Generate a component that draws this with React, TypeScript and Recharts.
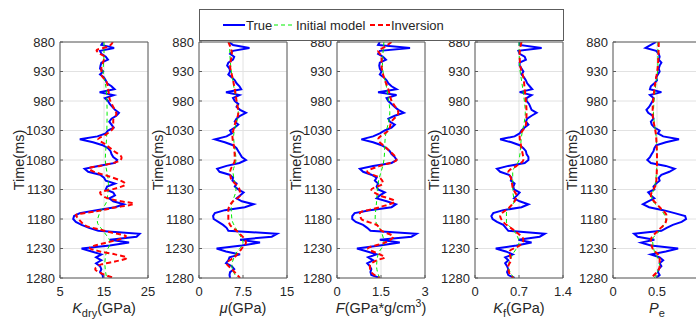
import React from "react";
import { LineChart, Line, XAxis, YAxis, CartesianGrid } from "recharts";

// depth samples of the "True" logs (ms)
const depth = [
  880, 885, 890, 895, 900, 905, 910, 915, 920, 925,
  930, 935, 940, 945, 950, 955, 960, 965, 970, 975,
  980, 985, 990, 995, 1000, 1005, 1010, 1015, 1020, 1025,
  1030, 1035, 1040, 1045, 1050, 1055, 1060, 1065, 1070, 1075,
  1080, 1085, 1090, 1095, 1100, 1105, 1110, 1115, 1120, 1125,
  1130, 1135, 1140, 1145, 1150, 1155, 1160, 1165, 1170, 1175,
  1180, 1185, 1190, 1195, 1200, 1205, 1210, 1215, 1220, 1225,
  1230, 1235, 1240, 1245, 1250, 1255, 1260, 1265, 1270, 1275,
  1280,
];

const timeTicks = [880, 930, 980, 1030, 1080, 1130, 1180, 1230, 1280];

// Kdry (GPa)
const kdryTrue = [
  14.8, 14.4, 17.3, 14.1, 14.4, 15.4, 15.9, 14.4, 14.2, 14.1,
  14.8, 14.1, 15.0, 15.4, 15.7, 16.7, 17.4, 14.0, 17.2, 15.2,
  15.9, 16.3, 16.9, 17.5, 18.4, 17.8, 16.7, 16.2, 16.7, 17.2,
  15.9, 15.4, 13.5, 9.5, 12.5, 14.7, 15.9, 16.5, 16.7, 17.1,
  18.0, 17.5, 13.7, 10.6, 11.4, 14.1, 15.0, 15.4, 17.5, 15.7,
  15.4, 17.1, 17.5, 16.2, 17.1, 19.5, 17.5, 13.3, 9.5, 8.2,
  8.0, 8.6, 9.9, 11.6, 13.7, 23.1, 22.4, 16.3, 20.7, 16.3,
  9.9, 12.2, 14.4, 13.2, 14.4, 13.2, 14.1, 14.4, 14.1, 14.7,
  14.8,
];
const kdryInvT = [880, 888, 894, 900, 905, 914, 922, 935, 948, 962, 977, 990, 1002, 1012, 1025, 1036, 1045, 1053, 1064, 1076, 1081, 1090, 1094, 1099, 1107, 1115, 1121, 1129, 1135, 1143, 1150, 1154, 1161, 1167, 1173, 1178, 1184, 1192, 1198, 1203, 1209, 1215, 1220, 1226, 1229, 1235, 1240, 1246, 1252, 1257, 1265, 1271, 1280];
const kdryInv = [17.0, 15.9, 13.3, 14.1, 15.1, 14.8, 14.4, 14.4, 15.6, 16.0, 16.3, 17.1, 17.8, 17.1, 17.1, 15.6, 13.7, 15.2, 17.1, 19.0, 18.6, 14.1, 11.6, 12.4, 15.8, 18.8, 19.9, 17.3, 14.1, 15.2, 18.8, 21.8, 17.1, 13.3, 8.6, 9.0, 9.7, 11.0, 14.1, 16.7, 20.0, 18.2, 15.6, 12.5, 11.8, 14.1, 17.5, 20.2, 17.5, 14.4, 13.0, 14.1, 17.3];
const kdryInitT = [880, 900, 930, 960, 1000, 1040, 1080, 1120, 1150, 1170, 1185, 1200, 1220, 1235, 1255, 1280];
const kdryInit = [15.0, 15.0, 14.8, 15.5, 15.7, 15.6, 15.3, 16.0, 15.6, 14.0, 13.5, 14.8, 16.4, 15.6, 15.2, 15.6];

// mu (GPa)
const muTrue = [
  5.0, 5.8, 8.6, 5.8, 5.3, 6.0, 5.8, 5.0, 4.8, 5.2,
  5.3, 5.0, 5.6, 6.1, 6.4, 6.9, 7.2, 4.6, 6.9, 5.8,
  6.1, 6.7, 6.4, 7.0, 8.0, 7.0, 6.4, 6.1, 6.7, 6.1,
  5.3, 5.6, 4.7, 2.7, 4.4, 5.8, 6.4, 6.7, 7.0, 7.3,
  8.0, 6.9, 4.7, 3.1, 3.5, 5.2, 5.8, 5.7, 6.4, 6.1,
  6.7, 7.6, 7.0, 6.4, 7.3, 9.3, 7.8, 4.4, 2.7, 2.4,
  2.5, 3.3, 4.1, 4.7, 5.0, 13.3, 12.4, 7.0, 10.4, 7.3,
  3.0, 4.6, 7.0, 5.2, 5.0, 4.6, 5.6, 6.0, 5.3, 5.2,
  5.3,
];
const muInvT = [880, 900, 920, 940, 960, 980, 1000, 1020, 1040, 1060, 1080, 1100, 1110, 1130, 1140, 1150, 1165, 1180, 1190, 1200, 1220, 1230, 1245, 1255, 1265, 1280];
const muInv = [5.0, 5.6, 5.3, 5.7, 6.1, 6.4, 6.7, 6.1, 5.7, 6.0, 6.1, 5.3, 5.4, 6.9, 7.0, 5.8, 5.0, 5.0, 5.3, 6.4, 8.0, 7.3, 6.0, 4.7, 5.6, 7.0];
const muInitT = [880, 920, 960, 1000, 1040, 1080, 1100, 1130, 1160, 1180, 1200, 1220, 1240, 1260, 1280];
const muInit = [5.2, 5.4, 6.0, 6.7, 5.9, 6.3, 5.8, 6.3, 5.5, 5.6, 6.5, 7.5, 6.2, 5.6, 6.5];

// F (GPa*g/cm3)
const fTrue = [
  1.46, 1.40, 2.49, 1.46, 1.40, 1.57, 1.67, 1.46, 1.44, 1.46,
  1.52, 1.46, 1.60, 1.69, 1.75, 1.86, 2.03, 1.40, 2.03, 1.69,
  1.75, 1.86, 1.97, 2.09, 2.28, 1.97, 1.75, 1.80, 1.97, 1.86,
  1.63, 1.46, 1.23, 0.83, 1.23, 1.52, 1.69, 1.80, 1.86, 1.97,
  2.03, 1.86, 1.23, 0.78, 0.89, 1.17, 1.35, 1.29, 1.40, 1.35,
  1.40, 1.63, 1.46, 1.35, 1.69, 2.01, 1.86, 1.12, 0.60, 0.52,
  0.52, 0.64, 0.89, 1.03, 1.14, 2.71, 2.54, 1.46, 2.14, 1.46,
  0.68, 1.03, 1.35, 1.06, 1.23, 1.03, 1.12, 1.17, 1.14, 1.17,
  1.46,
];
const fInvT = [880, 890, 895, 905, 920, 940, 960, 980, 1000, 1015, 1030, 1045, 1060, 1080, 1090, 1100, 1110, 1120, 1130, 1140, 1150, 1160, 1170, 1180, 1190, 1200, 1210, 1220, 1230, 1240, 1245, 1250, 1260, 1270, 1280];
const fInv = [1.86, 1.57, 1.40, 1.52, 1.52, 1.60, 1.75, 1.86, 2.09, 1.86, 1.75, 1.40, 1.69, 2.03, 1.46, 1.03, 1.46, 1.57, 1.17, 1.46, 1.97, 1.46, 0.78, 0.83, 1.35, 1.52, 1.92, 1.63, 1.06, 1.46, 1.63, 1.35, 1.12, 1.17, 1.46];
const fInitT = [880, 920, 960, 1000, 1040, 1080, 1120, 1150, 1180, 1200, 1220, 1240, 1260, 1280];
const fInit = [1.60, 1.55, 1.70, 1.80, 1.65, 1.60, 1.40, 1.35, 1.30, 1.50, 1.60, 1.40, 1.35, 1.45];

// Kf (GPa)
const kfTrue = [
  0.71, 0.71, 1.06, 0.69, 0.71, 0.79, 0.81, 0.71, 0.71, 0.74,
  0.77, 0.74, 0.78, 0.81, 0.83, 0.87, 0.91, 0.71, 0.90, 0.82,
  0.82, 0.86, 0.88, 0.90, 0.98, 0.90, 0.83, 0.81, 0.85, 0.79,
  0.74, 0.71, 0.63, 0.40, 0.58, 0.71, 0.77, 0.81, 0.82, 0.85,
  0.85, 0.79, 0.53, 0.35, 0.40, 0.54, 0.58, 0.57, 0.63, 0.61,
  0.62, 0.71, 0.67, 0.62, 0.71, 0.85, 0.74, 0.45, 0.29, 0.26,
  0.28, 0.35, 0.45, 0.49, 0.53, 1.11, 1.03, 0.69, 0.90, 0.66,
  0.33, 0.49, 0.60, 0.48, 0.53, 0.48, 0.51, 0.53, 0.51, 0.53,
  0.63,
];
const kfInvT = [880, 900, 920, 940, 960, 980, 1000, 1020, 1040, 1060, 1080, 1090, 1100, 1110, 1130, 1140, 1150, 1160, 1175, 1185, 1200, 1215, 1225, 1235, 1250, 1260, 1270, 1280];
const kfInv = [0.74, 0.71, 0.72, 0.77, 0.79, 0.81, 0.82, 0.81, 0.71, 0.74, 0.77, 0.66, 0.53, 0.57, 0.61, 0.66, 0.63, 0.55, 0.40, 0.45, 0.63, 0.77, 0.71, 0.55, 0.57, 0.53, 0.54, 0.61];
const kfInitT = [880, 920, 960, 1000, 1040, 1080, 1100, 1130, 1150, 1170, 1185, 1200, 1220, 1240, 1260, 1280];
const kfInit = [0.70, 0.71, 0.76, 0.80, 0.74, 0.70, 0.60, 0.60, 0.62, 0.50, 0.50, 0.62, 0.70, 0.60, 0.53, 0.62];

// Pe
const peTrue = [
  0.49, 0.43, 0.37, 0.49, 0.52, 0.53, 0.52, 0.55, 0.53, 0.52,
  0.53, 0.51, 0.49, 0.50, 0.47, 0.43, 0.42, 0.55, 0.42, 0.46,
  0.45, 0.43, 0.41, 0.38, 0.40, 0.45, 0.46, 0.43, 0.44, 0.47,
  0.53, 0.51, 0.57, 0.75, 0.60, 0.49, 0.47, 0.46, 0.44, 0.42,
  0.39, 0.43, 0.60, 0.70, 0.64, 0.55, 0.52, 0.53, 0.49, 0.46,
  0.47, 0.40, 0.43, 0.47, 0.40, 0.34, 0.41, 0.57, 0.70, 0.82,
  0.83, 0.78, 0.68, 0.61, 0.55, 0.24, 0.28, 0.47, 0.32, 0.43,
  0.74, 0.60, 0.43, 0.53, 0.57, 0.53, 0.55, 0.52, 0.51, 0.53,
  0.49,
];
const peInvT = [880, 920, 960, 1000, 1040, 1080, 1120, 1140, 1160, 1175, 1185, 1200, 1215, 1230, 1245, 1260, 1280];
const peInv = [0.52, 0.51, 0.47, 0.45, 0.49, 0.50, 0.49, 0.43, 0.53, 0.61, 0.60, 0.51, 0.43, 0.45, 0.53, 0.53, 0.43];
const peInitT = [880, 920, 960, 1000, 1040, 1080, 1120, 1145, 1165, 1180, 1200, 1215, 1235, 1255, 1280];
const peInit = [0.51, 0.51, 0.48, 0.46, 0.49, 0.50, 0.48, 0.44, 0.55, 0.60, 0.53, 0.45, 0.47, 0.53, 0.47];

const FONT = "'Liberation Sans', Arial, sans-serif";
const INK = "#262626";
const AXIS = "#5c5c5c";
const GRID = "#e2e2e2";

const CHART_H = 322;
const PLOT_TOP = 42;
const PLOT_BOTTOM = 278;
const PLOT_W = 88;
const Y_AXIS_W = 60;
const X_AXIS_H = 30;

const pairs = (t: number[], v: number[]) => t.map((d, i) => ({ t: d, v: v[i] }));

const txt = { fill: INK, fontFamily: FONT, fontSize: 14.5 };

const labels: ((cx: number, y: number) => React.ReactNode)[] = [
  (cx, y) => (
    <text x={cx} y={y} textAnchor="middle" {...txt}>
      <tspan fontStyle="italic">K</tspan>
      <tspan fontSize={11} dy={4}>dry</tspan>
      <tspan dy={-4}>(GPa)</tspan>
    </text>
  ),
  (cx, y) => (
    <text x={cx} y={y} textAnchor="middle" {...txt}>
      <tspan fontStyle="italic">μ</tspan>
      <tspan>(GPa)</tspan>
    </text>
  ),
  (cx, y) => (
    <text x={cx} y={y} textAnchor="middle" {...txt}>
      <tspan fontStyle="italic">F</tspan>
      <tspan>(GPa*g/cm</tspan>
      <tspan fontSize={10.5} dy={-6}>3</tspan>
      <tspan dy={6}>)</tspan>
    </text>
  ),
  (cx, y) => (
    <text x={cx} y={y} textAnchor="middle" {...txt}>
      <tspan fontStyle="italic">K</tspan>
      <tspan fontSize={11} dy={4}>f</tspan>
      <tspan dy={-4}>(GPa)</tspan>
    </text>
  ),
  (cx, y) => (
    <text x={cx} y={y} textAnchor="middle" {...txt}>
      <tspan fontStyle="italic">P</tspan>
      <tspan fontSize={11} dy={4}>e</tspan>
    </text>
  ),
];

// the last panel runs off the right edge of the figure, so its "1" label is not shown
const panels = [
  { left: 60, domain: [5, 25], ticks: [5, 15, 25], hide: [] as number[], tru: kdryTrue, initT: kdryInitT, init: kdryInit, invT: kdryInvT, inv: kdryInv },
  { left: 199, domain: [0, 15], ticks: [0, 7.5, 15], hide: [], tru: muTrue, initT: muInitT, init: muInit, invT: muInvT, inv: muInv },
  { left: 337, domain: [0, 3], ticks: [0, 1.5, 3], hide: [], tru: fTrue, initT: fInitT, init: fInit, invT: fInvT, inv: fInv },
  { left: 475, domain: [0, 1.4], ticks: [0, 0.7, 1.4], hide: [], tru: kfTrue, initT: kfInitT, init: kfInit, invT: kfInvT, inv: kfInv },
  { left: 613, domain: [0, 1], ticks: [0, 0.5, 1], hide: [1], tru: peTrue, initT: peInitT, init: peInit, invT: peInvT, inv: peInv },
];

function Panel({ p, idx }: { p: any; idx: number }) {
  const width = Y_AXIS_W + PLOT_W + 1 + 10;
  const tickStyle = { fill: INK, fontSize: 13, fontFamily: FONT };
  return (
    <div style={{ position: "absolute", left: p.left - Y_AXIS_W, top: 0 }}>
      <LineChart
        width={width}
        height={CHART_H}
        margin={{ top: PLOT_TOP - 1, right: 10, bottom: CHART_H - PLOT_BOTTOM - X_AXIS_H, left: 0 }}
      >
        <CartesianGrid xAxisId="b" yAxisId="l" stroke={GRID} strokeWidth={1} />
        <XAxis
          xAxisId="b"
          type="number"
          dataKey="v"
          domain={p.domain}
          ticks={p.ticks}
          allowDataOverflow
          interval={0}
          height={X_AXIS_H}
          tickSize={-3}
          tickMargin={12}
          tick={tickStyle}
          tickFormatter={(v: number) => (p.hide.includes(v) ? "" : String(v))}
          axisLine={{ stroke: AXIS }}
          tickLine={{ stroke: AXIS }}
          label={(lp: any) => {
            const vb = lp.viewBox;
            return labels[idx](vb.x + vb.width / 2, vb.y + 35);
          }}
        />
        <XAxis
          xAxisId="t"
          orientation="top"
          type="number"
          dataKey="v"
          domain={p.domain}
          ticks={p.ticks}
          allowDataOverflow
          interval={0}
          height={1}
          tickSize={-3}
          tick={false}
          axisLine={{ stroke: AXIS }}
          tickLine={{ stroke: AXIS }}
        />
        <YAxis
          yAxisId="l"
          type="number"
          dataKey="t"
          domain={[880, 1280]}
          ticks={timeTicks}
          allowDataOverflow
          reversed
          interval={0}
          width={Y_AXIS_W}
          tickSize={-3}
          tickMargin={8}
          tick={tickStyle}
          axisLine={{ stroke: AXIS }}
          tickLine={{ stroke: AXIS }}
          label={(lp: any) => {
            const vb = lp.viewBox;
            const cx = vb.x + vb.width - 41.5;
            const cy = vb.y + vb.height / 2;
            return (
              <text
                x={cx}
                y={cy}
                dy="0.35em"
                textAnchor="middle"
                transform={`rotate(-90, ${cx}, ${cy})`}
                {...txt}
              >
                Time(ms)
              </text>
            );
          }}
        />
        <YAxis
          yAxisId="r"
          orientation="right"
          type="number"
          dataKey="t"
          domain={[880, 1280]}
          ticks={timeTicks}
          allowDataOverflow
          reversed
          interval={0}
          width={1}
          tickSize={-3}
          tick={false}
          axisLine={{ stroke: AXIS }}
          tickLine={{ stroke: AXIS }}
        />
        <Line
          xAxisId="b"
          yAxisId="l"
          data={pairs(depth, p.tru)}
          dataKey="t"
          type="linear"
          stroke="#0000ff"
          strokeWidth={2}
          dot={false}
          activeDot={false}
          isAnimationActive={false}
        />
        <Line
          xAxisId="b"
          yAxisId="l"
          data={pairs(p.initT, p.init)}
          dataKey="t"
          type="monotoneY"
          stroke="#00ee00"
          strokeWidth={1}
          strokeDasharray="4 3"
          dot={false}
          activeDot={false}
          isAnimationActive={false}
        />
        <Line
          xAxisId="b"
          yAxisId="l"
          data={pairs(p.invT, p.inv)}
          dataKey="t"
          type="monotoneY"
          stroke="#ff0000"
          strokeWidth={2}
          strokeDasharray="5 3"
          dot={false}
          activeDot={false}
          isAnimationActive={false}
        />
      </LineChart>
    </div>
  );
}

function LegendBox() {
  const t = { fill: INK, fontFamily: FONT, fontSize: 13, dominantBaseline: "central" as const };
  return (
    <div
      style={{
        position: "absolute",
        left: 199,
        top: 9,
        width: 365,
        height: 32,
        boxSizing: "border-box",
        border: `1px solid ${AXIS}`,
        background: "#fff",
      }}
    >
      <svg width={363} height={30} style={{ display: "block" }}>
        <line x1={23} x2={45} y1={15} y2={15} stroke="#0000ff" strokeWidth={2} />
        <text x={46} y={15} {...t}>True</text>
        <line x1={74} x2={95} y1={15} y2={15} stroke="#00ee00" strokeWidth={1} strokeDasharray="4 3" />
        <text x={96} y={15} {...t}>Initial model</text>
        <line x1={170} x2={190} y1={15} y2={15} stroke="#ff0000" strokeWidth={2} strokeDasharray="5 3" />
        <text x={191} y={15} {...t}>Inversion</text>
      </svg>
    </div>
  );
}

export default function App() {
  return (
    <div
      style={{
        position: "absolute",
        left: 0,
        top: 0,
        width: 696,
        height: 322,
        overflow: "hidden",
        background: "#fff",
      }}
    >
      {panels.map((p, i) => (
        <Panel key={i} p={p} idx={i} />
      ))}
      <LegendBox />
    </div>
  );
}
